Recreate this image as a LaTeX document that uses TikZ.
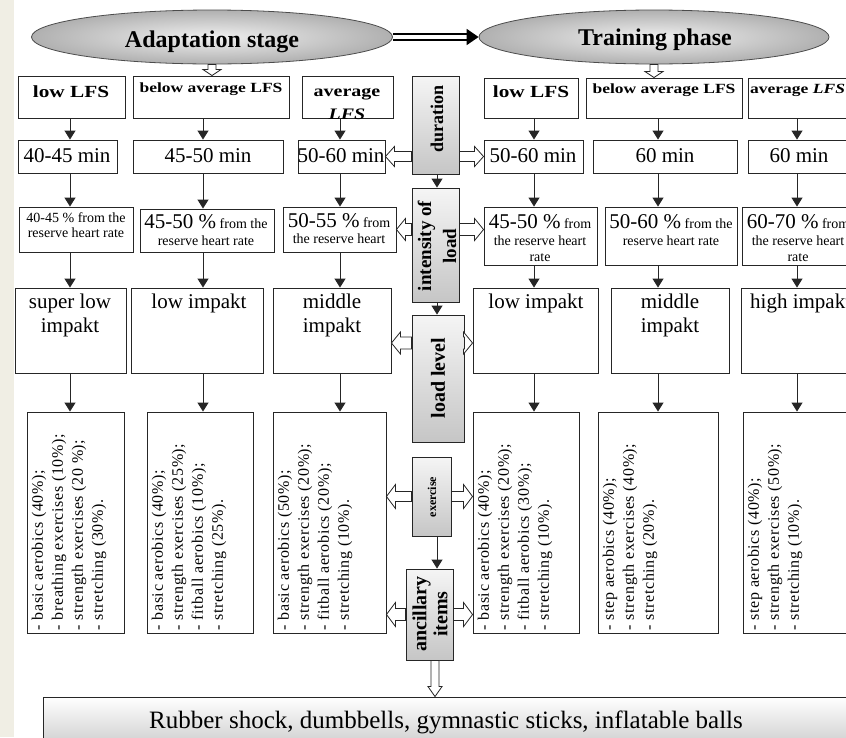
\documentclass[tikz,border=0pt]{standalone}
\usepackage{fontspec}
\setmainfont{Liberation Serif}
\newfontfamily\wideserif[FakeStretch=1.25]{Liberation Serif}
\newfontfamily\spacedserif[LetterSpace=4]{Liberation Serif}
\usetikzlibrary{arrows.meta,calc,fit,shapes.geometric}
\definecolor{beige}{RGB}{240,238,228}
\begin{document}
\begin{tikzpicture}[x=1pt,y=-1pt,
  every node/.style={inner sep=0pt},
  box/.style={draw=black!85, line width=0.9pt, fill=white},
  gbox/.style={draw=black!85, line width=0.9pt, top color=gray!8, bottom color=gray!45},
  ell/.style={ellipse, draw=black!70, line width=0.8pt, inner color=gray!12, outer color=gray!62},
  arr/.style={draw=black!85, line width=1pt, -{Triangle[length=9pt,width=11pt]}},
  dblarr/.style={draw=black, line width=1.8pt, double=white, double distance=3.5pt, -{Triangle[length=12pt,width=16pt]}},
  harr/.style={draw=black!85, line width=0.8pt, fill=white},
  hollow/.style n args={3}{to path={let \p1=(\tikztostart), \p2=(\tikztotarget), \p3=($(\p2)!#3!(\p1)$) in
     ($(\p1)!#1!90:(\p2)$) -- ($(\p3)!#1!90:(\p2)$) -- ($(\p3)!#2!90:(\p2)$) -- (\p2)
     -- ($(\p3)!#2!-90:(\p2)$) -- ($(\p3)!#1!-90:(\p2)$) -- ($(\p1)!#1!-90:(\p2)$) -- cycle}},
  bl/.style={anchor=base, font=\wideserif\bfseries\fontsize{#1}{#1}\selectfont},
  rg/.style={anchor=base, font=\fontsize{#1}{#1}\selectfont},
  rotl/.style={rotate=90, align=center, font=\bfseries\fontsize{#1}{#1}\selectfont},
  rot5/.style={rotate=90, anchor=north west, align=left, font=\spacedserif\fontsize{16}{20}\selectfont}
]
\useasboundingbox (0,0) rectangle (846,737);
\clip (0,0) rectangle (846,737);
\fill[white] (0,0) rectangle (846,737);
\fill[beige] (0,0) rectangle (14,737);

% column coordinates
\coordinate (c1) at (70,0);
\coordinate (c2) at (203,0);
\coordinate (c3) at (340,0);
\coordinate (c4) at (534,0);
\coordinate (c5) at (658,0);
\coordinate (c6) at (797,0);
\coordinate (cc) at (437,0);
\coordinate (ca) at (435,0);
\coordinate (ylv) at (0,343);

% ellipses
\node[ell, minimum width=361pt, minimum height=54pt] (E1) at (212,37) {};
\node[ell, minimum width=350pt, minimum height=54pt] (E2) at (654,37) {};
\node[anchor=base, font=\bfseries\fontsize{24}{24}\selectfont] (E1t) at (212,47) {Adaptation stage};
\node[anchor=base, font=\bfseries\fontsize{24}{24}\selectfont] (E2t) at (655,45) {Training phase};
\draw[dblarr] (E1.east) -- (E2.west);

% row 1
\node[box, fit={(18,76) (125,118)}] (L1) {};
\node[box, fit={(133,76) (289,118)}] (L2) {};
\node[box, fit={(302,76) (393,118)}] (L3) {};
\node[gbox, fit={(412,76) (459,174)}] (D) {};
\node[box, fit={(484,78) (578,118)}] (R1) {};
\node[box, fit={(586,78) (742,118)}] (R2) {};
\node[box, fit={(748,78) (870,118)}] (R3) {};
\node[bl=17] (L1t) at (71,97) {low LFS};
\node[bl=14] (L2t) at (211,92) {below average LFS};
\node[bl=16] (L3t) at (347,96) {average};
\node[bl=16] (L3u) at (347,119) {\itshape LFS};
\node[rotl=18] (Dt) at (437,119) {duration};
\node[bl=17] (R1t) at (531,97) {low LFS};
\node[bl=14] (R2t) at (664,93) {below average LFS};
\node[bl=14, anchor=base west] (R3t) at (750,93) {average \textit{LFS}};

% row 2
\node[box, fit={(18,140) (117,173)}] (M1) {};
\node[box, fit={(133,140) (283,173)}] (M2) {};
\node[box, fit={(298,140) (385,173)}] (M3) {};
\node[box, fit={(484,140) (583,173)}] (RM1) {};
\node[box, fit={(593,140) (737,173)}] (RM2) {};
\node[box, fit={(748,140) (870,173)}] (RM3) {};
\node[rg=21] (M1t) at (67,162) {40-45 min};
\node[rg=21] (M2t) at (208,162) {45-50 min};
\node[rg=21] (M3t) at (341,162) {50-60 min};
\node[rg=21] (RM1t) at (533,162) {50-60 min};
\node[rg=21] (RM2t) at (665,162) {60 min};
\node[rg=21] (RM3t) at (799,162) {60 min};

% row 3
\node[box, fit={(19,207) (133,252)}] (P1) {};
\node[box, fit={(140,209) (274,252)}] (P2) {};
\node[box, fit={(283,207) (396,252)}] (P3) {};
\node[gbox, fit={(412,188) (459,302)}] (I) {};
\node[box, fit={(484,207) (597,265)}] (RP1) {};
\node[box, fit={(605,207) (737,265)}] (RP2) {};
\node[box, fit={(742,207) (870,265)}] (RP3) {};
\node[rg=14] (P1a) at (76,222) {40-45 \% from the};
\node[rg=14] (P1b) at (76,237) {reserve heart rate};
\node[rg=14] (P2a) at (206,228) {{\fontsize{21}{21}\selectfont 45-50 \%} from the};
\node[rg=14] (P2b) at (206,245) {reserve heart rate};
\node[rg=14] (P3a) at (339,227) {{\fontsize{21}{21}\selectfont 50-55 \%} from};
\node[rg=14] (P3b) at (339,243) {the reserve heart};
\node[rotl=19, font=\bfseries\fontsize{19}{25}\selectfont] (It) at (437,246) {intensity of\\load};
\node[rg=14] (RP1a) at (540,228) {{\fontsize{21}{21}\selectfont 45-50 \%} from};
\node[rg=14] (RP1b) at (540,245) {the reserve heart};
\node[rg=14] (RP1c) at (540,261) {rate};
\node[rg=14] (RP2a) at (671,228) {{\fontsize{21}{21}\selectfont 50-60 \%} from the};
\node[rg=14] (RP2b) at (671,245) {reserve heart rate};
\node[rg=14] (RP3a) at (798,228) {{\fontsize{21}{21}\selectfont 60-70 \%} from};
\node[rg=14] (RP3b) at (798,245) {the reserve heart};
\node[rg=14] (RP3c) at (798,261) {rate};

% row 4
\node[box, fit={(15,288) (126,373)}] (Q1) {};
\node[box, fit={(131,288) (263,373)}] (Q2) {};
\node[box, fit={(273,288) (391,373)}] (Q3) {};
\node[gbox, fit={(412,315) (464,442)}] (LL) {};
\node[box, fit={(473,288) (598,373)}] (RQ1) {};
\node[box, fit={(611,288) (729,373)}] (RQ2) {};
\node[box, fit={(741,288) (870,373)}] (RQ3) {};
\node[rg=21] (Q1a) at (70,308) {super low};
\node[rg=21] (Q1b) at (70,332) {impakt};
\node[rg=21] (Q2a) at (199,308) {low impakt};
\node[rg=21] (Q3a) at (332,308) {middle};
\node[rg=21] (Q3b) at (332,332) {impakt};
\node[rotl=20] (LLt) at (438,378) {load level};
\node[rg=21] (RQ1a) at (536,308) {low impakt};
\node[rg=21] (RQ2a) at (670,308) {middle};
\node[rg=21] (RQ2b) at (670,332) {impakt};
\node[rg=21, anchor=base west] (RQ3a) at (750,308) {high impakt};

% row 5
\node[box, fit={(27,412) (124,633)}] (X1) {};
\node[box, fit={(147,412) (253,633)}] (X2) {};
\node[box, fit={(273,412) (386,633)}] (X3) {};
\node[gbox, fit={(412,457) (451,536)}] (EX) {};
\node[gbox, fit={(406,569) (453,660)}] (AN) {};
\node[box, fit={(473,412) (579,633)}] (RX1) {};
\node[box, fit={(598,412) (718,633)}] (RX2) {};
\node[box, fit={(743,412) (870,633)}] (RX3) {};
\node[rot5] (X1t) at ([shift={(5,-3)}]X1.south west) {- basic aerobics (40\%);\\- breathing exercises (10\%);\\- strength exercises (20 \%);\\- stretching (30\%).};
\node[rot5] (X2t) at ([shift={(5,-3)}]X2.south west) {- basic aerobics (40\%);\\- strength exercises (25\%);\\- fitball aerobics (10\%);\\- stretching (25\%).};
\node[rot5] (X3t) at ([shift={(5,-3)}]X3.south west) {- basic aerobics (50\%);\\- strength exercises (20\%);\\- fitball aerobics (20\%);\\- stretching (10\%).};
\node[rot5] (RX1t) at ([shift={(5,-3)}]RX1.south west) {- basic aerobics (40\%);\\- strength exercises (20\%);\\- fitball aerobics (30\%);\\- stretching (10\%).};
\node[rot5] (RX2t) at ([shift={(5,-3)}]RX2.south west) {- step aerobics (40\%);\\- strength exercises (40\%);\\- stretching (20\%).};
\node[rot5] (RX3t) at ([shift={(5,-3)}]RX3.south west) {- step aerobics (40\%);\\- strength exercises (50\%);\\- stretching (10\%).};
\node[rotl=12] (EXt) at (432,497) {exercise};
\node[rotl=20, font=\bfseries\fontsize{20}{21}\selectfont] (ANt) at (430,614) {ancillary\\items};

% bottom box
\node[draw=black!85, line width=0.9pt, top color=white, bottom color=gray!38, fit={(43,697) (880,745)}] (RB) {};
\node[rg=25] (RBt) at (446,728) {Rubber shock, dumbbells, gymnastic sticks, inflatable balls};

% black arrows in columns
\foreach \u/\v/\c in {L1/M1/c1, L2/M2/c2, L3/M3/c3, R1/RM1/c4, R2/RM2/c5, R3/RM3/c6,
                      M1/P1/c1, M2/P2/c2, M3/P3/c3, RM1/RP1/c4, RM2/RP2/c5, RM3/RP3/c6,
                      P1/Q1/c1, P2/Q2/c2, P3/Q3/c3, RP1/RQ1/c4, RP2/RQ2/c5, RP3/RQ3/c6,
                      Q1/X1/c1, Q2/X2/c2, Q3/X3/c3, RQ1/RX1/c4, RQ2/RX2/c5, RQ3/RX3/c6}
  \draw[arr] (\u.south -| \c) -- (\v.north -| \c);
\draw[arr] (D.south -| cc) -- (I.north -| cc);
\draw[arr] (I.south -| cc) -- (LL.north -| cc);
\draw[arr] (EX.south -| cc) -- (AN.north -| cc);

% hollow arrows
\draw[harr] (E1.south) to[hollow={4pt}{9pt}{6pt}] (E1.south |- L2.north);
\draw[harr] (E2.south) to[hollow={4pt}{9pt}{6pt}] (E2.south |- R2.north);
\draw[harr] (D.west |- M3.east) to[hollow={5pt}{10pt}{9pt}] (M3.east);
\draw[harr] (D.east |- RM1.west) to[hollow={5pt}{10pt}{9pt}] (RM1.west);
\draw[harr] (I.west |- P3.east) to[hollow={6pt}{11pt}{9pt}] (P3.east);
\draw[harr] (I.east |- P3.east) to[hollow={6pt}{11pt}{9pt}] (RP1.west |- P3.east);
\draw[harr] (LL.west |- ylv) to[hollow={6pt}{11pt}{9pt}] (Q3.east |- ylv);
\draw[harr] (LL.east |- ylv) to[hollow={6pt}{11pt}{9pt}] (RQ1.west |- ylv);
\draw[harr] (EX.west) to[hollow={5pt}{12pt}{9pt}] (EX.west -| X3.east);
\draw[harr] (EX.east) to[hollow={5pt}{12pt}{9pt}] (EX.east -| RX1.west);
\draw[harr] (AN.west) to[hollow={6pt}{12pt}{9pt}] (AN.west -| X3.east);
\draw[harr] (AN.east) to[hollow={6pt}{12pt}{9pt}] (AN.east -| RX1.west);
\draw[harr] (AN.south -| ca) to[hollow={4pt}{7pt}{10pt}] (RB.north -| ca);
\end{tikzpicture}
\end{document}
